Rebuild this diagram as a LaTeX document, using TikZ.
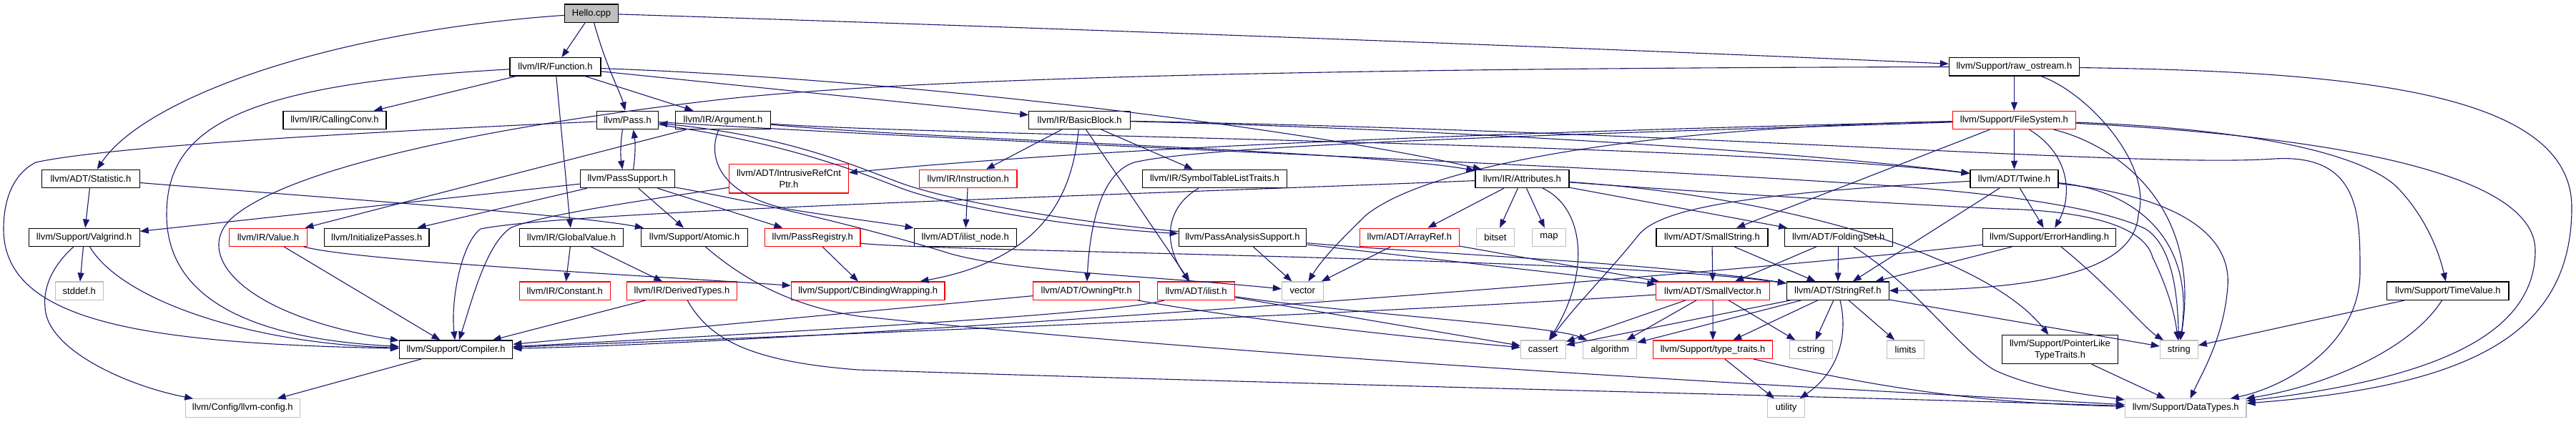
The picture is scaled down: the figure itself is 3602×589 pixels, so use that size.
\documentclass[tikz,border=0pt]{standalone}
\usepackage{fontspec}
\setmainfont{Liberation Sans}
\usetikzlibrary{arrows.meta}
\definecolor{edgec}{HTML}{191970}
\definecolor{gbord}{HTML}{BFBFBF}
\definecolor{hfill}{HTML}{BFBFBF}
\begin{document}
\begin{tikzpicture}[x=1pt,y=-1pt,
  box/.style={draw=black,line width=1.2pt,rectangle,inner sep=0pt,minimum height=25.3pt,font=\fontsize{13}{16}\selectfont,text=black},
  rbox/.style={box,draw=red},
  gbox/.style={box,draw=gbord},
  e/.style={draw=edgec,line width=1.1pt,-{Triangle[length=12pt,width=9pt]}}]
\fill[white] (0,0) rectangle (3602,589);
\useasboundingbox (0,0) rectangle (3602,589);
% nodes
\node[box,fill=hfill,minimum width=75] (hello) at (827,18.7) {Hello.cpp};
\node[box,minimum width=127] (func) at (776.5,93.3) {llvm/IR/Function.h};
\node[box,minimum width=182] (raw) at (2816.4,93.3) {llvm/Support/raw\_ostream.h};
\node[box,minimum width=144] (callconv) at (468,168) {llvm/IR/CallingConv.h};
\node[box,minimum width=86.5] (pass) at (877.5,168) {llvm/Pass.h};
\node[box,minimum width=132.4] (arg) at (1011,168) {llvm/IR/Argument.h};
\node[box,minimum width=141.6] (bb) at (1509.6,168) {llvm/IR/BasicBlock.h};
\node[rbox,minimum width=172] (fs) at (2816.4,168) {llvm/Support/FileSystem.h};
\node[box,minimum width=136.6] (stat) at (126.9,250) {llvm/ADT/Statistic.h};
\node[box,minimum width=132.4] (passsup) at (877.5,250) {llvm/PassSupport.h};
\node[rbox,minimum width=166.5,minimum height=40.7,align=center] (irc) at (1103,249.7) {llvm/ADT/IntrusiveRefCnt\\Ptr.h};
\node[rbox,minimum width=136.7] (instr) at (1353.7,250) {llvm/IR/Instruction.h};
\node[box,minimum width=201.7] (sym) at (1698.5,250) {llvm/IR/SymbolTableListTraits.h};
\node[box,minimum width=131] (attr) at (2128.4,250) {llvm/IR/Attributes.h};
\node[box,minimum width=123] (twine) at (2816.5,250) {llvm/ADT/Twine.h};
\node[box,minimum width=155] (valgrind) at (117.7,331.8) {llvm/Support/Valgrind.h};
\node[rbox,minimum width=108.7] (value) at (375,331.8) {llvm/IR/Value.h};
\node[box,minimum width=146.5] (initp) at (526.8,331.8) {llvm/InitializePasses.h};
\node[box,minimum width=145.4] (gv) at (799,331.8) {llvm/IR/GlobalValue.h};
\node[box,minimum width=149.2] (atomic) at (971.2,331.8) {llvm/Support/Atomic.h};
\node[rbox,minimum width=133.4] (preg) at (1136.3,331.8) {llvm/PassRegistry.h};
\node[box,minimum width=143.1] (ilnode) at (1349.7,331.8) {llvm/ADT/ilist\_node.h};
\node[box,minimum width=178.7] (pas) at (1737.5,331.8) {llvm/PassAnalysisSupport.h};
\node[rbox,minimum width=138.9] (arrayref) at (1970.9,331.8) {llvm/ADT/ArrayRef.h};
\node[gbox,minimum width=53.2] (bitset) at (2091,331.8) {bitset};
\node[gbox,minimum width=46.7] (map) at (2165.9,331.8) {map};
\node[box,minimum width=156] (smallstr) at (2393.9,331.8) {llvm/ADT/SmallString.h};
\node[box,minimum width=150.8] (folding) at (2570.7,331.8) {llvm/ADT/FoldingSet.h};
\node[box,minimum width=185.7] (errh) at (2865.6,331.8) {llvm/Support/ErrorHandling.h};
\node[gbox,minimum width=67] (stddef) at (110.8,406.7) {stddef.h};
\node[rbox,minimum width=127] (constant) at (789.8,406.7) {llvm/IR/Constant.h};
\node[rbox,minimum width=153.5] (derived) at (953.5,406.7) {llvm/IR/DerivedTypes.h};
\node[rbox,minimum width=214.7] (cbind) at (1213.7,406.7) {llvm/Support/CBindingWrapping.h};
\node[rbox,minimum width=149.3] (owning) at (1519.2,406.7) {llvm/ADT/OwningPtr.h};
\node[rbox,minimum width=108.3] (ilist) at (1672.5,406.7) {llvm/ADT/ilist.h};
\node[gbox,minimum width=57.7] (vector) at (1821.3,406.7) {vector};
\node[rbox,minimum width=158.3] (smallvec) at (2395,406.7) {llvm/ADT/SmallVector.h};
\node[box,minimum width=142.7] (stringref) at (2569.8,406.7) {llvm/ADT/StringRef.h};
\node[box,minimum width=170.1] (timeval) at (3422.9,406.7) {llvm/Support/TimeValue.h};
\node[box,minimum width=158.3] (compiler) at (637.6,488.7) {llvm/Support/Compiler.h};
\node[gbox,minimum width=62.8] (cassert) at (2157.8,488.7) {cassert};
\node[gbox,minimum width=75] (algorithm) at (2251.2,488.7) {algorithm};
\node[rbox,minimum width=166.8] (typetraits) at (2395.1,488.7) {llvm/Support/type\_traits.h};
\node[gbox,minimum width=59.7] (cstring) at (2532.5,488.7) {cstring};
\node[gbox,minimum width=52.1] (limits) at (2664.5,488.7) {limits};
\node[box,minimum width=162.6,minimum height=40,align=center] (pltt) at (2880.5,488.7) {llvm/Support/PointerLike\\TypeTraits.h};
\node[gbox,minimum width=53] (string) at (3046.8,488.7) {string};
\node[gbox,minimum width=160.3] (llvmconfig) at (339.3,570.5) {llvm/Config/llvm-config.h};
\node[gbox,minimum width=52] (utility) at (2497.6,570.5) {utility};
\node[gbox,minimum width=169.5] (datatypes) at (3056.2,570.5) {llvm/Support/DataTypes.h};
% Hello.cpp
\draw[e] (hello) .. controls (450,45) and (200,140) .. (stat);
\draw[e] (hello) -- (func);
\draw[e] (hello) .. controls (848,95) and (868,130) .. (pass);
\draw[e] (hello) .. controls (1500,40) and (2300,70) .. (raw);
% Function.h
\draw[e] (func) -- (callconv);
\draw[e] (func) .. controls (330,118) and (233,180) .. (233,300) .. controls (233,440) and (400,476) .. (compiler);
\draw[e] (func) -- (arg);
\draw[e] (func) -- (bb);
\draw[e] (func) .. controls (1300,112) and (1850,185) .. (attr);
\draw[e] (func) -- (gv);
% Pass.h
\draw[e] (pass) .. controls (500,185) and (150,205) .. (50,227) .. controls (15,245) and (5,285) .. (5,320) .. controls (5,450) and (200,480) .. (compiler);
\draw[e] ([xshift=-7]pass.south) .. controls +(-3,18) and +(-3,-18) .. ([xshift=-7]passsup.north);
\draw[e] ([xshift=8]passsup.north) .. controls +(3,-18) and +(3,18) .. ([xshift=8]pass.south);
\draw[e] (pass) .. controls (1100,200) and (1200,240) .. (1257,262) .. controls (1330,290) and (1500,318) .. (pas);
\draw[e] (pas) .. controls (1500,310) and (1330,282) .. (1257,255) .. controls (1190,230) and (1100,190) .. (pass);
\draw[e] (pass) .. controls (1400,200) and (2200,230) .. (2600,257) .. controls (2850,272) and (2960,300) .. (3000,320) .. controls (3040,345) and (3045,420) .. (string);
% PassSupport.h
\draw[e] (passsup) -- (valgrind);
\draw[e] (passsup) -- (initp);
\draw[e] (passsup) -- (atomic);
\draw[e] (passsup) -- (preg);
\draw[e] (passsup) .. controls (1100,290) and (1250,330) .. (1330,355) .. controls (1420,380) and (1600,385) .. (vector);
% Statistic.h
\draw[e] (stat) -- (valgrind);
\draw[e] (stat) .. controls (500,280) and (800,300) .. (atomic);
% Valgrind.h
\draw[e] (valgrind) -- (stddef);
\draw[e] (valgrind) .. controls (170,420) and (350,480) .. (compiler);
\draw[e] (valgrind) .. controls (75,370) and (60,400) .. (63,430) .. controls (66,490) and (180,540) .. (llvmconfig);
\draw[e] (compiler) -- (llvmconfig);
% raw_ostream.h
\draw[e] (raw) -- (fs);
\draw[e] (raw) .. controls (2000,95) and (1300,105) .. (1000,140) .. controls (700,175) and (420,230) .. (330,300) .. controls (265,350) and (330,440) .. (compiler);
\draw[e] (raw) .. controls (2920,130) and (3010,230) .. (2990,300) .. controls (2985,380) and (2850,405) .. (stringref);
\draw[e] (raw) .. controls (3300,100) and (3596,130) .. (3596,290) .. controls (3596,470) and (3450,540) .. (datatypes);
% FileSystem.h
\draw[e] (fs) .. controls (2300,180) and (1600,200) .. (irc);
\draw[e] (fs) .. controls (2300,185) and (1700,200) .. (1586,227) .. controls (1545,240) and (1525,300) .. (owning);
\draw[e] (fs) .. controls (2300,178) and (2000,230) .. (1911,300) .. controls (1880,330) and (1850,360) .. (vector);
\draw[e] (fs) -- (smallstr);
\draw[e] (fs) -- (twine);
\draw[e] (fs) .. controls (2900,220) and (2895,280) .. (errh);
\draw[e] (fs) .. controls (3150,180) and (3300,215) .. (3350,260) .. controls (3390,300) and (3410,350) .. (timeval);
\draw[e] (fs) .. controls (3250,190) and (3545,240) .. (3545,350) .. controls (3545,470) and (3400,530) .. (datatypes);
\draw[e] (fs) .. controls (2950,200) and (3080,280) .. (string);
% BasicBlock.h
\draw[e] (bb) -- (instr);
\draw[e] (bb) .. controls (1500,260) and (1470,360) .. (cbind);
\draw[e] (bb) -- (ilist);
\draw[e] (bb) -- (sym);
\draw[e] (bb) .. controls (2000,180) and (2500,210) .. (twine);
\draw[e] (bb) .. controls (2400,185) and (3000,235) .. (3180,222) .. controls (3300,215) and (3300,300) .. (3300,380) .. controls (3300,480) and (3200,540) .. (datatypes);
% Argument.h
\draw[e] (arg) -- (value);
\draw[e] (arg) .. controls (990,215) and (1000,270) .. (1100,292) .. controls (1180,305) and (1240,312) .. (ilnode);
\draw[e] (arg) .. controls (1300,190) and (2400,200) .. (twine);
\draw[e] (arg) .. controls (1300,195) and (1900,210) .. (attr);
% Instruction.h, SymbolTableListTraits.h
\draw[e] (instr) -- (ilnode);
\draw[e] (sym) .. controls (1630,290) and (1625,340) .. (ilist);
% Attributes.h
\draw[e] (attr) -- (arrayref);
\draw[e] (attr) -- (bitset);
\draw[e] (attr) -- (map);
\draw[e] (attr) .. controls (2215,290) and (2225,380) .. (cassert);
\draw[e] (attr) -- (folding);
\draw[e] (attr) .. controls (2500,275) and (2780,360) .. (pltt);
\draw[e] (attr) .. controls (2400,270) and (2650,285) .. (2800,292) .. controls (2930,295) and (3000,320) .. (3010,360) .. controls (3025,390) and (3040,430) .. (string);
\draw[e] (attr) .. controls (1500,275) and (800,295) .. (672,320) .. controls (645,340) and (630,420) .. (compiler);
% IntrusiveRefCntPtr.h
\draw[e] (irc) .. controls (900,280) and (760,300) .. (715,318) .. controls (680,340) and (660,420) .. (compiler);
% GlobalValue.h, DerivedTypes.h, Atomic.h
\draw[e] (gv) -- (constant);
\draw[e] (gv) -- (derived);
\draw[e] (derived) -- (compiler);
\draw[e] (derived) .. controls (990,470) and (1040,505) .. (1200,517) .. controls (1800,537) and (2600,555) .. (datatypes);
\draw[e] (atomic) .. controls (1050,400) and (1120,430) .. (1200,442) .. controls (1800,505) and (2600,545) .. (datatypes);
% PassRegistry.h
\draw[e] (preg) -- (cbind);
\draw[e] (preg) .. controls (1300,352) and (2250,360) .. (stringref);
% PassAnalysisSupport.h
\draw[e] (pas) -- (vector);
\draw[e] (pas) -- (smallvec);
\draw[e] (pas) .. controls (2000,355) and (2300,366) .. (stringref);
% ArrayRef.h, SmallString.h, FoldingSet.h
\draw[e] (arrayref) -- (vector);
\draw[e] (arrayref) -- (smallvec);
\draw[e] (smallstr) -- (smallvec);
\draw[e] (smallstr) -- (stringref);
\draw[e] (folding) -- (smallvec);
\draw[e] (folding) -- (stringref);
\draw[e] (folding) .. controls (2680,400) and (2740,490) .. (2790,518) .. controls (2850,545) and (2920,552) .. (datatypes);
% SmallVector.h
\draw[e] (smallvec) .. controls (1900,440) and (1100,470) .. (compiler);
\draw[e] (smallvec) -- (cassert);
\draw[e] (smallvec) -- (algorithm);
\draw[e] (smallvec) -- (typetraits);
\draw[e] (smallvec) -- (cstring);
% StringRef.h
\draw[e] (stringref) -- (typetraits);
\draw[e] (stringref) -- (cstring);
\draw[e] (stringref) -- (limits);
\draw[e] (stringref) .. controls (2585,470) and (2570,520) .. (utility);
\draw[e] (stringref) -- (string);
\draw[e] (stringref) -- (cassert);
\draw[e] (stringref) -- (algorithm);
% ErrorHandling.h
\draw[e] (errh) .. controls (2300,395) and (1100,480) .. (compiler);
\draw[e] (errh) -- (stringref);
\draw[e] (errh) .. controls (2950,400) and (3000,460) .. (string);
% Twine.h
\draw[e] (twine) -- (stringref);
\draw[e] (twine) -- (errh);
\draw[e] (twine) .. controls (2450,270) and (2320,290) .. (2290,330) .. controls (2250,380) and (2200,430) .. (cassert);
\draw[e] (twine) .. controls (2980,265) and (3070,330) .. (string);
\draw[e] (twine) .. controls (3050,275) and (3120,330) .. (3115,400) .. controls (3110,470) and (3080,520) .. (datatypes);
% type_traits.h, PointerLikeTypeTraits.h, TimeValue.h
\draw[e] (typetraits) -- (utility);
\draw[e] (typetraits) .. controls (2700,560) and (2850,565) .. (datatypes);
\draw[e] (pltt) -- (datatypes);
\draw[e] (timeval) -- (string);
\draw[e] (timeval) .. controls (3370,490) and (3250,540) .. (datatypes);
% Value.h
\draw[e] (value) -- (compiler);
\draw[e] (value) .. controls (500,365) and (900,385) .. (cbind);
% OwningPtr.h, ilist.h
\draw[e] (owning) -- (compiler);
\draw[e] (owning) .. controls (1700,440) and (1900,465) .. (cassert);
\draw[e] (ilist) .. controls (1560,440) and (1000,470) .. (compiler);
\draw[e] (ilist) -- (cassert);
\draw[e] (ilist) .. controls (1900,440) and (2170,455) .. (algorithm);
\end{tikzpicture}
\end{document}
